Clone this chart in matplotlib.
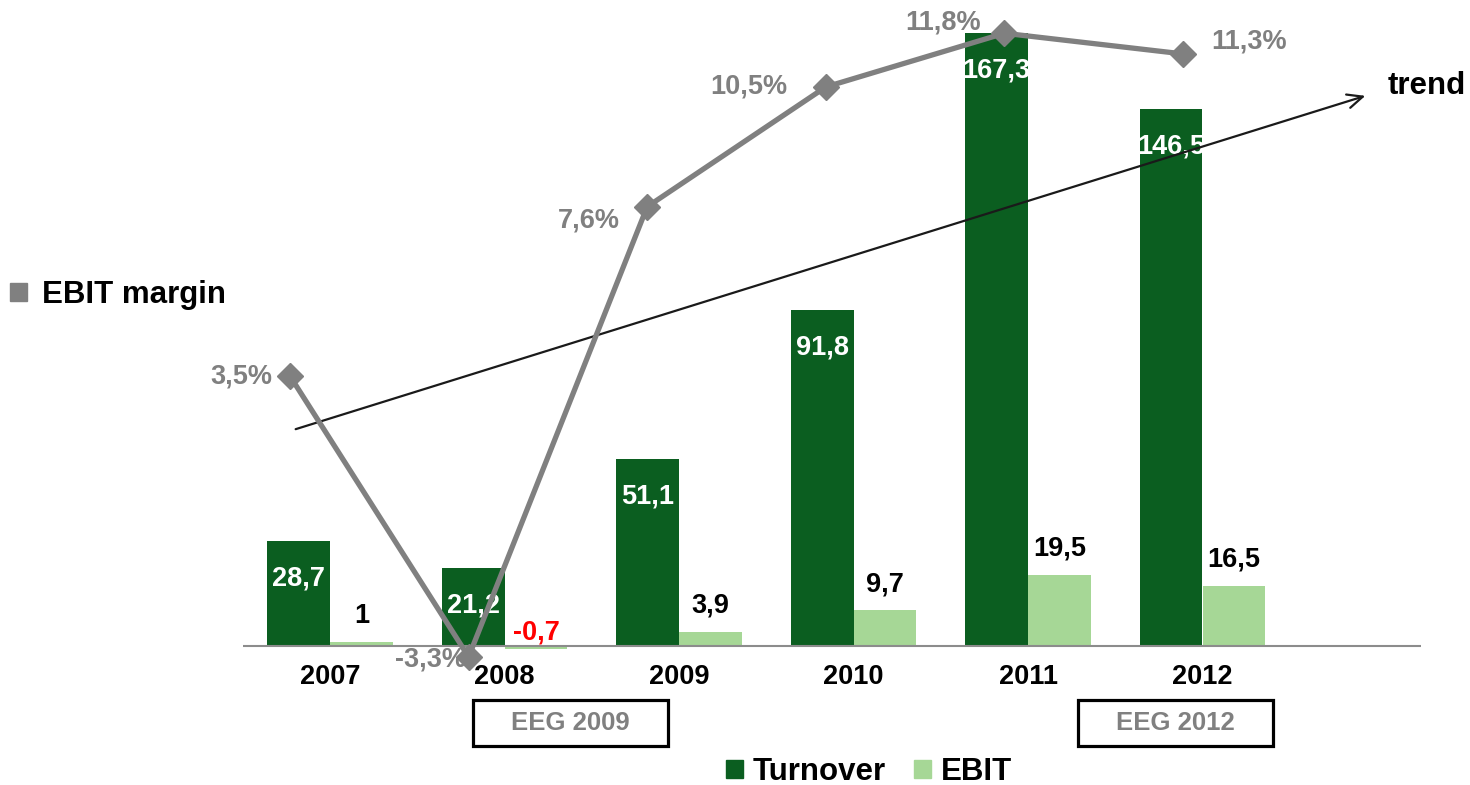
import matplotlib
matplotlib.use('Agg')
import matplotlib.pyplot as plt
from matplotlib.patches import Patch, Rectangle
import numpy as np

plt.rcParams['font.family'] = ['Liberation Sans', 'DejaVu Sans']
plt.rcParams['font.weight'] = 'bold'

# data
jahre = ['2007', '2008', '2009', '2010', '2011', '2012']
turnover = [28.7, 21.2, 51.1, 91.8, 167.3, 146.5]
ebit = [1, -0.7, 3.9, 9.7, 19.5, 16.5]
marge = [3.5, -3.3, 7.6, 10.5, 11.8, 11.3]
turnover_txt = ['28,7', '21,2', '51,1', '91,8', '167,3', '146,5']
ebit_txt = ['1', '-0,7', '3,9', '9,7', '19,5', '16,5']
marge_txt = ['3,5%', '-3,3%', '7,6%', '10,5%', '11,8%', '11,3%']

dunkel = '#0b5e20'
hell = '#a6d796'
grau = '#808080'
fs_zahl = 19.5   # numbers
fs_wort = 22.5   # words

fig = plt.figure(figsize=(14.7, 7.85), dpi=100)
ax = fig.add_axes([0, 0, 1, 1])
ax.set_xlim(-330 / 174.5, (1470 - 330) / 174.5)
ax.set_ylim(-(785 - 646) / 3.664, 646 / 3.664)
ax.axis('off')

x = np.arange(len(jahre))
w = 0.361
b1 = ax.bar(x - w / 2, turnover, w, color=dunkel, zorder=2)
b2 = ax.bar(x + w / 2, ebit, w, color=hell, zorder=2)
ax.hlines(0, -0.5, 6.25, color='#8c8c8c', lw=1.5, zorder=3)

for i in range(len(jahre)):
    ax.annotate(turnover_txt[i], (x[i] - w / 2, turnover[i]), xytext=(0, -27),
                textcoords='offset points', ha='center', va='center',
                color='white', fontsize=fs_zahl, fontweight='bold', zorder=4)
    farbe = 'red' if ebit[i] < 0 else 'black'
    dy = 10 if ebit[i] < 0 else 19
    ax.annotate(ebit_txt[i], (x[i] + w / 2, max(ebit[i], 0)), xytext=(0, dy),
                textcoords='offset points', ha='center', va='center',
                color=farbe, fontsize=fs_zahl, fontweight='bold', zorder=4)
    ax.annotate(jahre[i], (x[i], 0), xytext=(0, -22), textcoords='offset points',
                ha='center', va='center', color='black', fontsize=fs_zahl,
                fontweight='bold')

# EBIT margin on its own axes (slightly wider category spacing)
ax2 = fig.add_axes([0, 0, 1, 1])
ax2.set_xlim(-290 / 178.6, (1470 - 290) / 178.6)
ax2.set_ylim(-(785 - 520.6) / 41.3, 520.6 / 41.3)
ax2.axis('off')
ax2.plot(x, marge, color=grau, lw=3.8, marker='D', ms=13, zorder=5)

versatz = [(-13, 0, 'right'), (-2, -2, 'right'), (-20, -10, 'right'),
           (-28, 0, 'right'), (-17, 8, 'right'), (20, 9, 'left')]
for i in range(len(jahre)):
    dx, dy, ha = versatz[i]
    ax2.annotate(marge_txt[i], (x[i], marge[i]), xytext=(dx, dy),
                 textcoords='offset points', ha=ha, va='center', color=grau,
                 fontsize=fs_zahl, fontweight='bold', zorder=6)

# trend arrow
ax2.annotate('', xy=(1368 / 1470, 1 - 95 / 785), xytext=(293 / 1470, 1 - 430 / 785),
             xycoords='figure fraction', textcoords='figure fraction',
             arrowprops=dict(arrowstyle='->,head_length=1.1,head_width=0.5',
                             color='#1a1a1a', lw=1.6), zorder=4)
fig.text(1388 / 1470, 1 - 86 / 785, 'trend', ha='left', va='center',
         fontsize=fs_wort, fontweight='bold')

# EEG boxes
for txt, x0 in [('EEG 2009', 473), ('EEG 2012', 1078)]:
    fig.add_artist(Rectangle((x0 / 1470, 1 - 746 / 785), 195 / 1470, 46 / 785,
                             transform=fig.transFigure, fc='white', ec='black', lw=2.3))
    fig.text((x0 + 97.5) / 1470, 1 - 723 / 785, txt, ha='center', va='center',
             color=grau, fontsize=18.5, fontweight='bold')

# legends
fig.legend(handles=[Patch(color=dunkel, label='Turnover'), Patch(color=hell, label='EBIT')],
           loc='center', bbox_to_anchor=(869 / 1470, 1 - 772 / 785), ncol=2,
           frameon=False, fontsize=fs_wort, handlelength=0.55, handleheight=0.55,
           handletextpad=0.3, columnspacing=0.9)
fig.legend(handles=[Patch(color=grau, label='EBIT margin')],
           loc='center', bbox_to_anchor=(118 / 1470, 1 - 295 / 785),
           frameon=False, fontsize=fs_wort, handlelength=0.55, handleheight=0.55,
           handletextpad=0.5)

fig.savefig('out.png', dpi=100)
